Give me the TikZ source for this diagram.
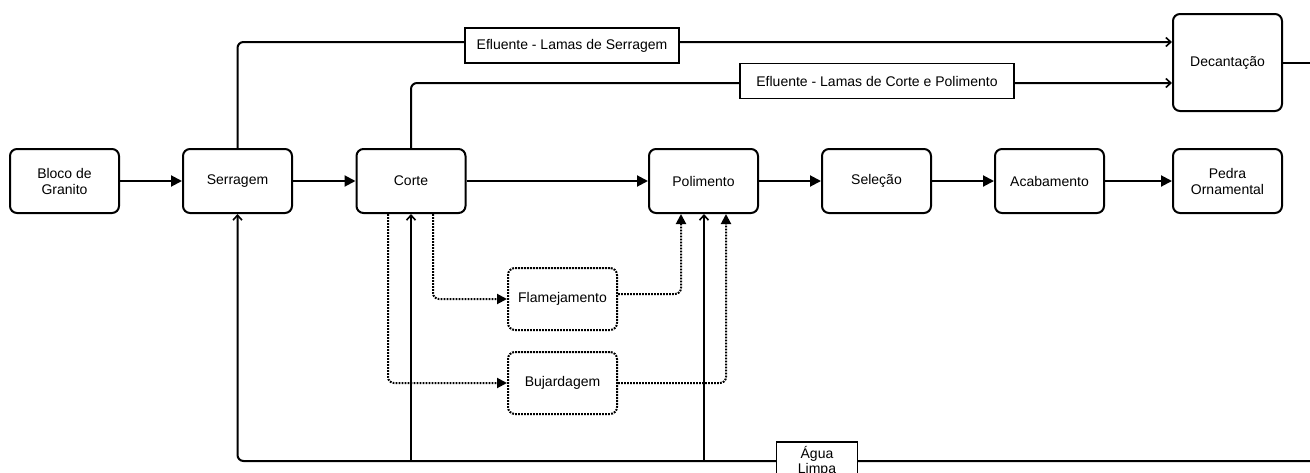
\documentclass[tikz,border=0pt]{standalone}
\usepackage{fontspec}
\setmainfont{Liberation Sans}
\usetikzlibrary{arrows.meta}
\begin{document}
\begin{tikzpicture}[x=1pt,y=-1pt,
  font=\fontsize{14}{16}\selectfont,
  every node/.style={align=center},
  proc/.style={draw, line width=2pt, rounded corners=7pt, fill=white,
    minimum width=109pt, minimum height=64pt, inner sep=2pt},
  optproc/.style={proc, dash pattern=on 1.8pt off 1.2pt, minimum height=62pt},
  tag/.style={draw, line width=1.2pt, fill=white, minimum height=35pt, inner sep=2pt},
  flow/.style={line width=2pt, -{Triangle[length=11pt,width=11pt]}},
  optflow/.style={flow, dash pattern=on 1.8pt off 1.2pt, rounded corners=6pt,
    -{Triangle[length=10pt,width=10pt]}},
  sludge/.style={line width=2pt, rounded corners=6pt, -{Straight Barb[length=5pt,width=9pt,line width=1.6pt]}},
  water/.style={line width=2pt, rounded corners=6pt, -{Straight Barb[length=5pt,width=9pt,line width=1.6pt]}},
  plain/.style={line width=2pt}
]
\clip (0,0) rectangle (1310,472);

% main line of processes
\node[proc] (bloco) at (64.5,181) {Bloco de\\Granito};
\node[proc] (serr)  at (237.5,181) {Serragem};
\node[proc] (corte) at (411,181) {Corte};
\node[proc] (pol)   at (703.5,181) {Polimento};
\node[proc] (sel)   at (876.5,181) {Seleção};
\node[proc] (acab)  at (1049.5,181) {Acabamento};
\node[proc] (pedra) at (1227.5,181) {Pedra\\Ornamental};
\node[proc, minimum height=97pt] (deca) at (1227.5,62.5) {Decantação};

% optional surface treatments
\node[optproc] (flam) at (562.5,299) {Flamejamento};
\node[optproc] (buj)  at (562.5,383) {Bujardagem};

% process flow
\draw[flow] (bloco) -- (serr);
\draw[flow] (serr) -- (corte);
\draw[flow] (corte) -- (pol);
\draw[flow] (pol) -- (sel);
\draw[flow] (sel) -- (acab);
\draw[flow] (acab) -- (pedra);

% optional branches
\draw[optflow] ([xshift=22pt]corte.south) |- (flam.west);
\draw[optflow] ([xshift=-23pt]corte.south) |- (buj.west);
\draw[optflow] ([yshift=5pt]flam.east) -| ([xshift=-22.5pt]pol.south);
\draw[optflow] (buj.east) -| ([xshift=22.5pt]pol.south);

% effluents to settling
\draw[sludge] (serr.north) |- ([yshift=20.5pt]deca.west);
\draw[sludge] (corte.north) |- ([yshift=-20.5pt]deca.west);
\coordinate (dout) at (1310,62.5);
\draw[plain] (deca.east) -- (dout);
\node[tag, minimum width=214pt] (lserr) at (572,45.5) {Efluente - Lamas de Serragem};
\node[tag, minimum width=274pt] (lcorte) at (877,81) {Efluente - Lamas de Corte e Polimento};

% clean water supply
\coordinate (win) at (1310,461);
\draw[water] (win) -| (serr.south);
\coordinate (wc) at (411,461);
\coordinate (wp) at (704,461);
\draw[water] (wc) -- (corte.south);
\draw[water] (wp) -- (pol.south -| wp);
\node[tag, minimum width=81pt, minimum height=39pt, inner sep=1pt,
  font=\fontsize{14}{15}\selectfont] (lagua) at (817,461.5) {Água\\Limpa};
\end{tikzpicture}
\end{document}
